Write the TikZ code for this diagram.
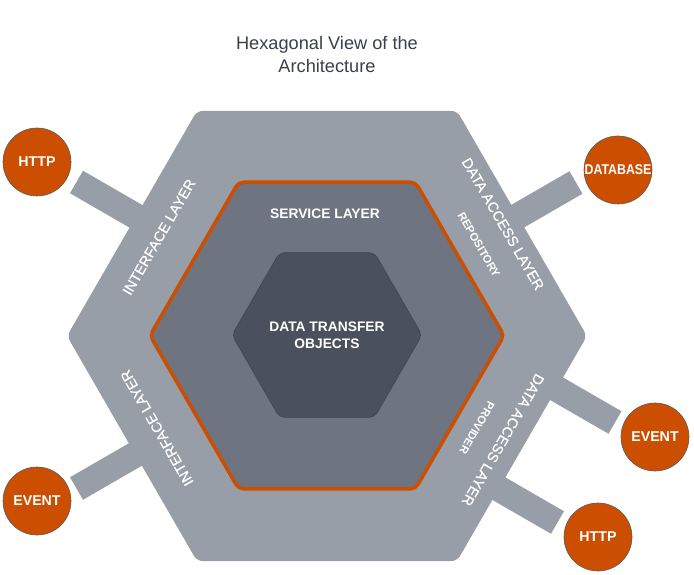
\documentclass[tikz,border=0pt]{standalone}
\usepackage{fontspec}
\setmainfont{Liberation Sans}
\newfontfamily\semifont[FakeBold=0.7]{Liberation Sans}
\definecolor{outerg}{RGB}{152,158,168}
\definecolor{midg}{RGB}{110,116,128}
\definecolor{innerg}{RGB}{74,81,92}
\definecolor{orng}{RGB}{204,78,0}
\definecolor{titlec}{RGB}{58,64,74}
\begin{document}
\begin{tikzpicture}[x=1pt,y=-1pt,
  bar/.style={draw=outerg,line width=26pt},
  port/.style={circle,minimum size=68pt,inner sep=0pt,fill=orng,draw=black!65,line width=0.6pt,
     text=white,font=\bfseries\fontsize{14.2}{16}\selectfont},
  sidelbl/.style={text=white,font=\semifont\fontsize{14.4}{16}\selectfont,inner sep=0pt},
  sublbl/.style={text=white,font=\bfseries\fontsize{11.2}{13}\selectfont,inner sep=0pt},
  corelbl/.style={text=white,font=\bfseries\fontsize{13.8}{17}\selectfont,align=center,inner sep=0pt}]
\useasboundingbox (0,0) rectangle (694,575);
% title
\node[text=titlec,font=\fontsize{18.2}{23}\selectfont,align=center] (title) at (327,54.5)
  {Hexagonal View of the\\Architecture};
% bar coordinates
\coordinate (b1o) at (76.5,182);   \coordinate (b1i) at (145.8,222);
\coordinate (b2o) at (576,182.5);  \coordinate (b2i) at (506.7,222.5);
\coordinate (b3o) at (615,422.5);  \coordinate (b3i) at (545.7,382.5);
\coordinate (b4o) at (557.5,522.5);\coordinate (b4i) at (488.2,482.5);
\coordinate (b5o) at (76.5,488.5); \coordinate (b5i) at (145.8,448.5);
\draw[bar] (b1o) -- (b1i);
\draw[bar] (b2o) -- (b2i);
\draw[bar] (b3o) -- (b3i);
\draw[bar] (b4o) -- (b4i);
\draw[bar] (b5o) -- (b5i);
% outer hexagon
\fill[outerg,rounded corners=6pt] (67,336) -- (197,110.8) -- (457,110.8) -- (587,336) -- (457,561.2) -- (197,561.2) -- cycle;
% middle hexagon
\draw[fill=midg,draw=orng,line width=3.5pt,rounded corners=5pt] (150,335.5) -- (238.5,182.2) -- (415.5,182.2) -- (504,335.5) -- (415.5,488.8) -- (238.5,488.8) -- cycle;
% inner hexagon
\draw[fill=innerg,draw=innerg!85!black,line width=0.6pt,rounded corners=5pt] (232,335) -- (279.5,252.7) -- (374.5,252.7) -- (422,335) -- (374.5,417.3) -- (279.5,417.3) -- cycle;
% labels
\node[corelbl] (svc) at (325,214) {SERVICE LAYER};
\node[corelbl] (dto) at (327,335.5) {DATA TRANSFER\\OBJECTS};
\node[sidelbl,rotate=60] (if1) at (159,237) {INTERFACE LAYER};
\node[sidelbl,rotate=120] (if2) at (157,428) {INTERFACE LAYER};
\node[sidelbl,rotate=-60] (da1) at (503,224) {DATA ACCESS LAYER};
\node[sidelbl,rotate=-120] (da2) at (503,440) {DATA ACCESS LAYER};
\node[sublbl,rotate=-60] (repo) at (479,245) {REPOSITORY};
\node[sublbl,rotate=-120] (prov) at (477,428) {PROVIDER};
% ports
\node[port] (http1) at (37,162) {HTTP};
\node[port] (db) at (618,170) {\scalebox{0.87}[1]{DATABASE}};
\node[port] (ev1) at (655,437) {EVENT};
\node[port] (http2) at (598,537) {HTTP};
\node[port] (ev2) at (37,501) {EVENT};
\end{tikzpicture}
\end{document}
